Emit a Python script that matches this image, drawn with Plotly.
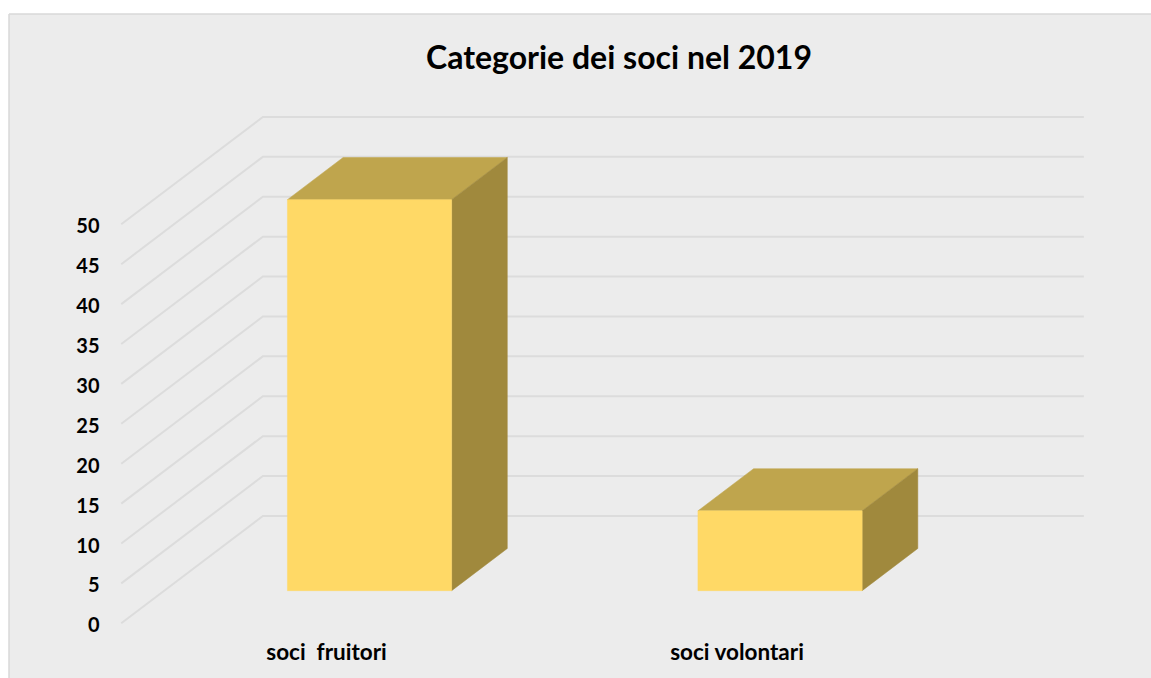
import plotly.graph_objects as go

# Chart data
categories = ["soci  fruitori", "soci volontari"]
members = [49, 10]
tick_values = [0, 5, 10, 15, 20, 25, 30, 35, 40, 45, 50]
chart_title = "Categorie dei soci nel 2019"

# Oblique projection: how far one full unit of depth shifts a point
DEPTH_X = 0.345
DEPTH_Y = 13.45
BAR_WIDTH = 0.4
BAR_DEPTH_FRONT = 0.304
BAR_DEPTH_BACK = 0.697
FLOOR_LEFT = -0.5
FLOOR_RIGHT = 1.5

FRONT_COLOR = "#FFD966"
TOP_COLOR = "#BFA54D"
SIDE_COLOR = "#A0893D"
GRID_COLOR = "#DCDCDC"
WALL_COLOR = "#ECECEC"
BORDER_COLOR = "#D9D9D9"
FONT = "Lato, Carlito, Calibri, sans-serif"

# Plot area and axis ranges
WIDTH, HEIGHT = 1151, 678
LEFT, TOP = 9, 14
X_RANGE = [(LEFT - 326.5) / 410.5, (WIDTH - 326.5) / 410.5]
Y_RANGE = [(623.3 - HEIGHT) / 7.98, (623.3 - TOP) / 7.98]


def project(x, value, depth):
    return x + depth * DEPTH_X, value + depth * DEPTH_Y


def face(points, color):
    xs, ys = zip(*[project(*p) for p in points + points[:1]])
    return go.Scatter(
        x=xs, y=ys, mode="lines", fill="toself", fillcolor=color,
        line=dict(color=color, width=0.5), hoverinfo="skip", showlegend=False,
    )


fig = go.Figure()

# Gridlines run along the side wall, then across the back wall
grid_x, grid_y = [], []
for v in tick_values:
    for p in [(FLOOR_LEFT, v, 0), (FLOOR_LEFT, v, 1), (FLOOR_RIGHT, v, 1)]:
        px, py = project(*p)
        grid_x.append(px)
        grid_y.append(py)
    grid_x.append(None)
    grid_y.append(None)
fig.add_trace(go.Scatter(
    x=grid_x, y=grid_y, mode="lines", line=dict(color=GRID_COLOR, width=2),
    hoverinfo="skip", showlegend=False,
))

# Each column is three faces: top, side and front
for i, value in enumerate(members):
    x0, x1 = i - BAR_WIDTH / 2, i + BAR_WIDTH / 2
    d0, d1 = BAR_DEPTH_FRONT, BAR_DEPTH_BACK
    fig.add_trace(face([(x0, value, d0), (x1, value, d0), (x1, value, d1), (x0, value, d1)], TOP_COLOR))
    fig.add_trace(face([(x1, 0, d0), (x1, value, d0), (x1, value, d1), (x1, 0, d1)], SIDE_COLOR))
    fig.add_trace(face([(x0, 0, d0), (x1, 0, d0), (x1, value, d0), (x0, value, d0)], FRONT_COLOR))

plot_w = WIDTH - LEFT
plot_h = HEIGHT - TOP
left_edge = -LEFT / plot_w
top_edge = 1 + TOP / plot_h

fig.update_layout(
    width=WIDTH,
    height=HEIGHT,
    margin=dict(l=LEFT, r=0, t=TOP, b=0, autoexpand=False),
    paper_bgcolor=WALL_COLOR,
    plot_bgcolor=WALL_COLOR,
    showlegend=False,
    title=dict(
        text=f"<b>{chart_title}</b>",
        x=619 / WIDTH, xanchor="center", xref="container",
        y=1 - 58 / HEIGHT, yanchor="middle", yref="container",
        font=dict(family=FONT, size=32, color="black"),
    ),
    xaxis=dict(
        range=X_RANGE, tickmode="array", tickvals=list(range(len(categories))),
        ticktext=[f"<b>{c}</b>" for c in categories],
        showgrid=False, zeroline=False, showline=False, ticks="",
        anchor="free", position=(HEIGHT - 636) / plot_h, automargin=False,
        tickfont=dict(family=FONT, size=22.5, color="black"),
    ),
    yaxis=dict(
        range=Y_RANGE, tickmode="array", tickvals=tick_values,
        ticktext=[f"<b>{v}</b>" for v in tick_values],
        showgrid=False, zeroline=False, showline=False, ticks="",
        anchor="free", position=(99.5 - LEFT) / plot_w, automargin=False,
        ticklabelshift=2,
        tickfont=dict(family=FONT, size=20, color="black"),
    ),
    shapes=[
        # White page strips around the chart panel, then its top and left border
        dict(type="rect", xref="paper", yref="paper", x0=left_edge, x1=1.01, y0=1, y1=top_edge,
             fillcolor="white", line=dict(width=0), layer="below"),
        dict(type="rect", xref="paper", yref="paper", x0=left_edge, x1=0, y0=-0.01, y1=top_edge,
             fillcolor="white", line=dict(width=0), layer="below"),
        dict(type="line", xref="paper", yref="paper", x0=0, x1=1.01, y0=1, y1=1,
             line=dict(color=BORDER_COLOR, width=1.5)),
        dict(type="line", xref="paper", yref="paper", x0=0, x1=0, y0=-0.01, y1=1,
             line=dict(color=BORDER_COLOR, width=1.5)),
    ],
)

fig.write_html("out.html", config=dict(displayModeBar=False))
